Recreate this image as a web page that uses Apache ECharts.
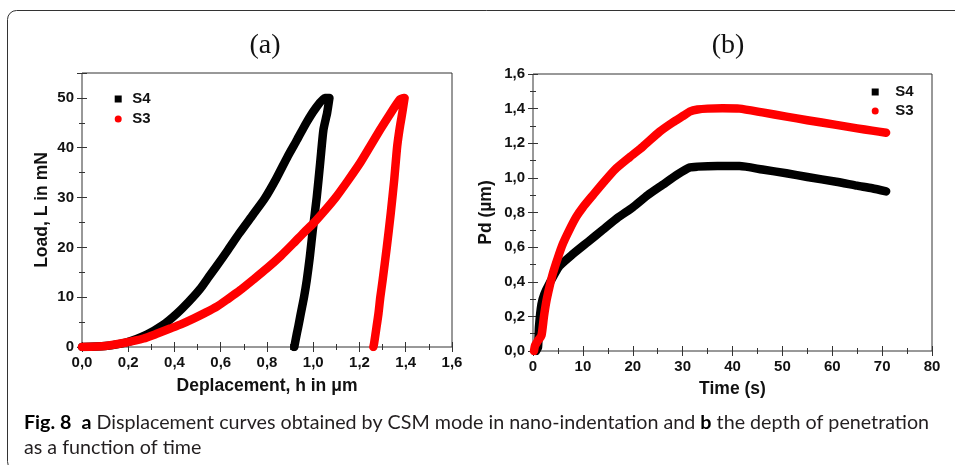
<!DOCTYPE html>
<html><head><meta charset="utf-8">
<script src="https://cdn.jsdelivr.net/npm/echarts@6/dist/echarts.min.js"></script>
<style>html,body{margin:0;padding:0;background:#fff}#c{width:955px;height:465px}</style>
</head><body><div id="c"></div>
<script>
// ---------- (a) Load vs displacement ----------
const a_S4_h = [0.00,0.10,0.19,0.28,0.35,0.41,0.46,0.51,0.55,0.58,0.63,0.68,0.74,0.79,0.84,0.89,0.93,0.97,1.01,1.05,1.07,
                1.06,1.044,1.03,1.015,0.998,0.985,0.972,0.96,0.946,0.935,0.929,0.92,0.918];
const a_S4_L = [0.0,0.2,0.9,2.5,4.4,6.7,9.0,11.6,14.2,16.1,19.4,22.8,26.6,29.8,33.8,38.3,41.6,45.0,47.9,50.0,50.0,
                47.0,43.6,37.0,30.0,23.5,18.0,13.4,10.0,6.7,4.0,2.7,0.5,0.0];
const a_S3_h = [0.00,0.10,0.19,0.266,0.32,0.381,0.43,0.482,0.53,0.583,0.63,0.684,0.74,0.80,0.86,0.914,0.96,1.00,1.05,1.10,1.15,1.202,1.245,1.289,1.33,1.375,1.395,
                1.385,1.374,1.363,1.35,1.335,1.318,1.30,1.29,1.282,1.272,1.263,1.26];
const a_S3_L = [0.0,0.2,0.9,1.7,2.6,3.7,4.6,5.7,6.8,8.1,9.6,11.4,13.5,15.8,18.3,20.8,23.0,24.8,27.4,30.2,33.4,36.9,40.2,43.6,46.6,49.7,50.0,
                47.0,44.0,40.3,33.5,26.8,20.0,13.4,10.0,6.7,3.5,0.7,0.0];
// ---------- (b) Penetration depth vs time ----------
const b_S4_t = [0.6,1.0,1.2,1.7,2.3,3.3,5.3,8.0,11,14,17,20,23,26,29,31.4,33,37,41.4,46,50.8,55,60.8,65,68,70.8];
const b_S4_v = [0,0.02,0.14,0.27,0.33,0.39,0.49,0.56,0.63,0.70,0.77,0.83,0.90,0.96,1.02,1.06,1.065,1.068,1.068,1.048,1.027,1.005,0.978,0.955,0.94,0.922];
const b_S3_t = [0.2,0.4,1.0,1.7,2.2,2.7,3.3,4.0,5.0,6.0,7.3,8.7,10,12,14,16.5,19.4,22,25.4,28,30.5,31.4,33,35,38,41.4,46,50.8,55,60.8,65,68,70.8];
const b_S3_v = [0,0.03,0.06,0.09,0.2,0.29,0.37,0.45,0.54,0.62,0.70,0.776,0.83,0.90,0.969,1.05,1.12,1.18,1.267,1.32,1.365,1.383,1.395,1.40,1.402,1.40,1.378,1.354,1.333,1.306,1.286,1.273,1.261];

const titles = ['(a)', '(b)'];
const seriesNames = ['S4', 'S3'];
const axisNames = { ax: 'Deplacement, h in μm', ay: 'Load, L in mN', bx: 'Time (s)', by: 'Pd (µm)' };
const captionBold1 = 'Fig. 8', captionA = 'a', captionTxt1 = ' Displacement curves obtained by CSM mode in nano-indentation and ',
      captionB = 'b', captionTxt2 = ' the depth of penetration', captionLine2 = 'as a function of time';

const zip = (xs, ys) => xs.map((x, i) => [x, ys[i]]);
const F = '"Liberation Sans", Arial, sans-serif';
const comma1 = v => (Math.round(v * 10) / 10).toFixed(1).replace('.', ',');

function mkAxis(grid, pos, min, max, interval, fmt, name, gap, main) {
  const a = {
    type: 'value', gridIndex: grid, position: pos, min, max, interval,
    axisLine: { show: false },
    axisTick: { show: true, inside: true, length: 5, lineStyle: { color: '#333', width: 1 } },
    minorTick: { show: true, splitNumber: 2, length: 3, lineStyle: { color: '#333', width: 1 } },
    splitLine: { show: false },
    axisLabel: { show: main, formatter: fmt, fontFamily: F, fontWeight: 'bold', fontSize: 15, color: '#111', margin: 8 }
  };
  if (main) {
    a.name = name; a.nameLocation = 'middle'; a.nameGap = gap;
    a.nameTextStyle = { fontFamily: F, fontWeight: 'bold', fontSize: 17.5, color: '#111' };
  }
  return a;
}

const fmtAy = v => (v > 50 ? '' : String(Math.round(v)));
const fmtInt = v => String(Math.round(v));

const squareIcon = 'path://M0,0L10,0L10,10L0,10Z';

// caption font fitting
const capFont = 'Lato, "Open Sans", sans-serif';
const mctx = document.createElement('canvas').getContext('2d');
function mw(t, bold, s) { mctx.font = (bold ? 'bold ' : '') + s + 'px ' + capFont; return mctx.measureText(t).width; }
const base = 17;
const tot = mw(captionBold1, true, base) + mw('  ', false, base) + mw(captionA, true, base) + mw(captionTxt1, false, base) + mw(captionB, true, base) + mw(captionTxt2, false, base);
const capSize = Math.round(base * 906 / tot * 10) / 10;

const chart = echarts.init(document.getElementById('c'), null, { renderer: 'canvas' });
const lineCommon = { type: 'line', showSymbol: false, symbol: 'none', silent: true, animation: false, smooth: 0.2 };
const LW = 8.5;

chart.setOption({
  backgroundColor: '#fff',
  animation: false,
  grid: [
    { left: 82, top: 73, width: 370, height: 274, show: true, borderColor: '#333', borderWidth: 1, backgroundColor: 'transparent' },
    { left: 533, top: 74, width: 399, height: 277, show: true, borderColor: '#333', borderWidth: 1, backgroundColor: 'transparent' }
  ],
  xAxis: [
    mkAxis(0, 'bottom', 0, 1.6, 0.2, comma1, axisNames.ax, 30, true),
    mkAxis(0, 'top', 0, 1.6, 0.2, comma1, '', 0, false),
    mkAxis(1, 'bottom', 0, 80, 10, fmtInt, axisNames.bx, 29, true),
    mkAxis(1, 'top', 0, 80, 10, fmtInt, '', 0, false)
  ],
  yAxis: [
    mkAxis(0, 'left', 0, 55, 10, fmtAy, axisNames.ay, 31, true),
    mkAxis(0, 'right', 0, 55, 10, fmtAy, '', 0, false),
    mkAxis(1, 'left', 0, 1.6, 0.2, comma1, axisNames.by, 38, true),
    mkAxis(1, 'right', 0, 1.6, 0.2, comma1, '', 0, false)
  ],
  legend: [
    { orient: 'vertical', left: 114.7, top: 91.5, padding: 0, itemWidth: 18, itemHeight: 7, itemGap: 5, selectedMode: false,
      data: [{ name: seriesNames[0], icon: squareIcon }, { name: seriesNames[1], icon: 'circle' }],
      itemStyle: { borderWidth: 0 },
      textStyle: { fontFamily: F, fontWeight: 'bold', fontSize: 15, color: '#111', lineHeight: 15 } },
    { orient: 'vertical', left: 871.7, top: 84.5, padding: 0, itemWidth: 30, itemHeight: 7, itemGap: 4, selectedMode: false,
      data: [{ name: seriesNames[0], icon: squareIcon }, { name: seriesNames[1], icon: 'circle' }],
      itemStyle: { borderWidth: 0 },
      textStyle: { fontFamily: F, fontWeight: 'bold', fontSize: 15, color: '#111', lineHeight: 15 } }
  ],
  series: [
    Object.assign({}, lineCommon, { name: seriesNames[0], xAxisIndex: 0, yAxisIndex: 0, data: zip(a_S4_h, a_S4_L), color: '#000',
      lineStyle: { color: '#000', width: LW, cap: 'round', join: 'round' }, z: 2 }),
    Object.assign({}, lineCommon, { name: seriesNames[1], xAxisIndex: 0, yAxisIndex: 0, data: zip(a_S3_h, a_S3_L), color: '#ff0000',
      lineStyle: { color: '#ff0000', width: LW, cap: 'round', join: 'round' }, z: 3 }),
    Object.assign({}, lineCommon, { name: seriesNames[0], xAxisIndex: 2, yAxisIndex: 2, data: zip(b_S4_t, b_S4_v), color: '#000',
      lineStyle: { color: '#000', width: LW, cap: 'round', join: 'round' }, z: 2 }),
    Object.assign({}, lineCommon, { name: seriesNames[1], xAxisIndex: 2, yAxisIndex: 2, data: zip(b_S3_t, b_S3_v), color: '#ff0000',
      lineStyle: { color: '#ff0000', width: LW, cap: 'round', join: 'round' }, z: 3 })
  ],
  graphic: [
    { type: 'rect', silent: true, z: 0, shape: { x: 7.5, y: 10.5, width: 990, height: 460, r: 9 },
      style: { fill: 'none', stroke: '#333', lineWidth: 1 } },
    { type: 'text', silent: true, x: 265, y: 46, style: { text: titles[0], font: '28px "Liberation Serif", "DejaVu Serif", serif', fill: '#111', align: 'center', verticalAlign: 'middle' } },
    { type: 'text', silent: true, x: 728, y: 46, style: { text: titles[1], font: '28px "Liberation Serif", "DejaVu Serif", serif', fill: '#111', align: 'center', verticalAlign: 'middle' } },
    { type: 'text', silent: true, x: 24, y: 423, style: {
        text: '{b|' + captionBold1 + '}  {b|' + captionA + '}' + captionTxt1 + '{b|' + captionB + '}' + captionTxt2,
        fontFamily: capFont, fontSize: capSize, fill: '#231f20', align: 'left', verticalAlign: 'middle',
        rich: { b: { fontFamily: capFont, fontSize: capSize, fontWeight: 'bold', fill: '#000' } } } },
    { type: 'text', silent: true, x: 24, y: 448, style: { text: captionLine2, fontFamily: capFont, fontSize: capSize, fill: '#231f20', align: 'left', verticalAlign: 'middle' } }
  ]
});
</script>
</body></html>
